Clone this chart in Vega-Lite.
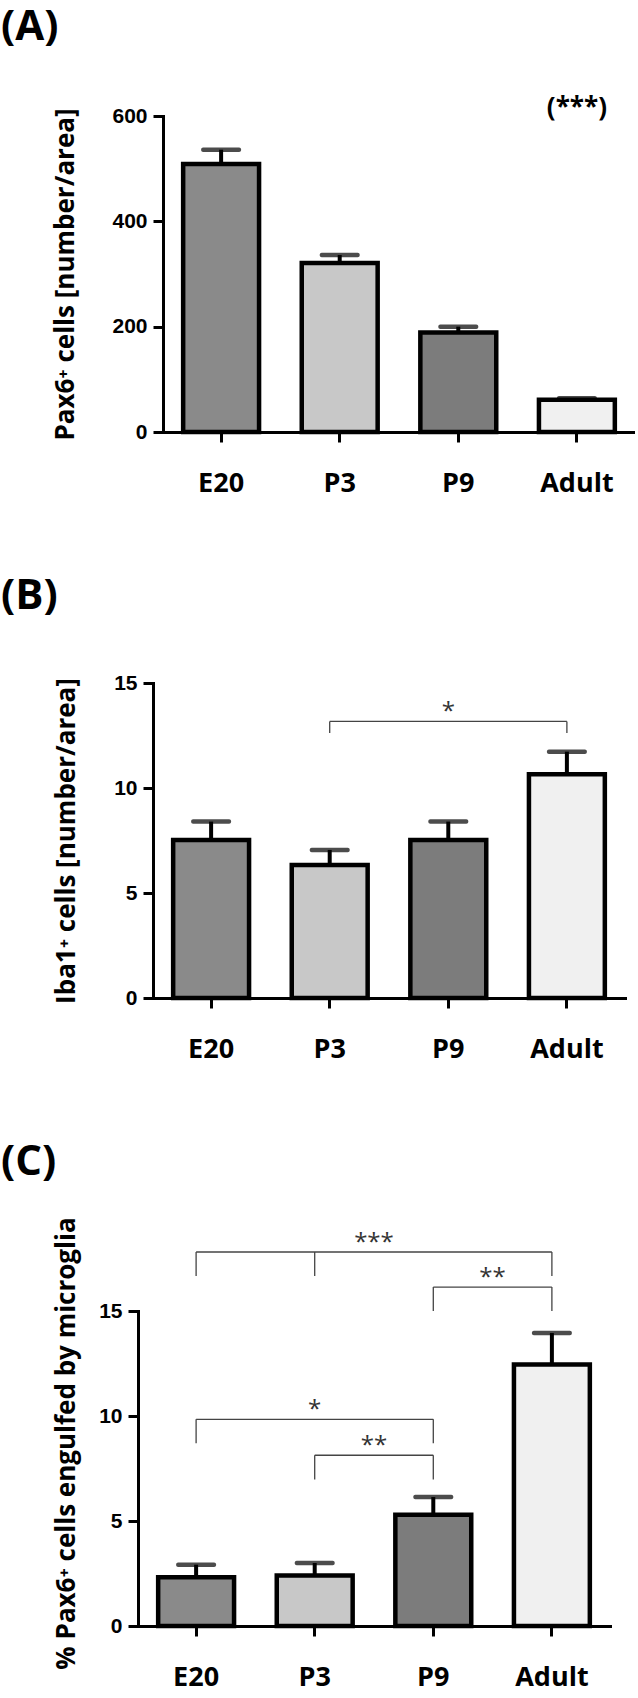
{
  "$schema": "https://vega.github.io/schema/vega-lite/v6.json",
  "padding": {"top": 6, "left": 0, "right": 0, "bottom": 0},
  "background": "white",
  "config": {
    "view": {"stroke": null},
    "axis": {"domainColor": "black", "domainWidth": 3, "tickColor": "black", "tickWidth": 3, "tickSize": 10, "grid": false, "labelColor": "black", "titleColor": "black", "domainCap": "square"},
    "axisY": {"labelFont": "Liberation Sans", "labelFontWeight": "bold", "labelFontSize": 21, "labelPadding": 6, "titleFont": "Open Sans", "titleFontWeight": "bold", "titleFontSize": 26},
    "axisX": {"labelFont": "Open Sans", "labelFontWeight": "bold", "labelFontSize": 27, "labelPadding": 28, "labelAngle": 0},
    "title": {"font": "Open Sans", "fontWeight": "bold", "fontSize": 42, "anchor": "start", "color": "black"}
  },
  "datasets": {
    "barsA": [
      {"g": "E20", "v": 509, "hi": 536},
      {"g": "P3", "v": 321, "hi": 336},
      {"g": "P9", "v": 189, "hi": 200},
      {"g": "Adult", "v": 61, "hi": 64}
    ],
    "noteA": [{"g": "Adult", "y": 615, "t": "(***)"}],
    "barsB": [
      {"g": "E20", "v": 7.52, "hi": 8.40},
      {"g": "P3", "v": 6.33, "hi": 7.05},
      {"g": "P9", "v": 7.52, "hi": 8.40},
      {"g": "Adult", "v": 10.65, "hi": 11.73}
    ],
    "hB": [{"a": "P3", "b": "Adult", "y": 13.17}],
    "lB": [
      {"g": "P3", "y": 13.17, "y2": 12.62},
      {"g": "Adult", "y": 13.17, "y2": 12.62}
    ],
    "sB": [{"g": "P9", "y": 13.17, "t": "*"}],
    "barsC": [
      {"g": "E20", "v": 2.32, "hi": 2.92},
      {"g": "P3", "v": 2.40, "hi": 3.00},
      {"g": "P9", "v": 5.30, "hi": 6.14},
      {"g": "Adult", "v": 12.45, "hi": 13.95}
    ],
    "hC": [
      {"a": "E20", "b": "Adult", "y": 17.81},
      {"a": "P9", "b": "Adult", "y": 16.14},
      {"a": "E20", "b": "P9", "y": 9.84},
      {"a": "P3", "b": "P9", "y": 8.13}
    ],
    "lC": [
      {"g": "E20", "y": 17.81, "y2": 16.67},
      {"g": "P3", "y": 17.81, "y2": 16.67},
      {"g": "Adult", "y": 17.81, "y2": 16.67},
      {"g": "P9", "y": 16.14, "y2": 15.0},
      {"g": "Adult", "y": 16.14, "y2": 15.0},
      {"g": "E20", "y": 9.84, "y2": 8.70},
      {"g": "P9", "y": 9.84, "y2": 8.70},
      {"g": "P3", "y": 8.13, "y2": 6.98},
      {"g": "P9", "y": 8.13, "y2": 6.98}
    ],
    "sCmid": [
      {"g": "P3", "y": 17.81, "t": "***"},
      {"g": "P9", "y": 16.14, "t": "**"},
      {"g": "P3", "y": 8.13, "t": "**"}
    ],
    "sCcen": [{"g": "P3", "y": 9.84, "t": "*"}]
  },
  "spacing": 78,
  "vconcat": [
    {
      "width": 497,
      "height": 316,
      "title": {"text": "(A)", "offset": 46, "dx": -52},
      "layer": [
        {
          "data": {"name": "barsA"},
          "mark": {"type": "bar", "stroke": "black", "strokeWidth": 4.5},
          "encoding": {
            "x": {"field": "g", "type": "nominal", "scale": {"domain": ["E20", "P3", "P9", "Adult"], "range": [25, 497], "paddingInner": 0.36, "paddingOuter": 0.17}, "axis": {"title": null}},
            "y": {"field": "v", "type": "quantitative", "scale": {"domain": [0, 600], "nice": false}, "axis": {"values": [0, 200, 400, 600], "title": "Pax6⁺ cells [number/area]", "titlePadding": 33, "offset": -25}},
            "fill": {"field": "g", "type": "nominal", "scale": {"domain": ["E20", "P3", "P9", "Adult"], "range": ["#8a8a8a", "#c8c8c8", "#7c7c7c", "#f0f0f0"]}, "legend": null}
          }
        },
        {
          "data": {"name": "barsA"},
          "mark": {"type": "rule", "strokeWidth": 4, "color": "black"},
          "encoding": {
            "x": {"field": "g", "type": "nominal"},
            "y": {"field": "v", "type": "quantitative"},
            "y2": {"field": "hi"}
          }
        },
        {
          "data": {"name": "barsA"},
          "mark": {"type": "tick", "thickness": 4.5, "size": 40, "color": "black", "cornerRadius": 2},
          "encoding": {
            "x": {"field": "g", "type": "nominal"},
            "y": {"field": "hi", "type": "quantitative"}
          }
        },
        {
          "data": {"name": "noteA"},
          "mark": {"type": "text", "font": "Open Sans", "fontWeight": "bold", "fontSize": 26, "baseline": "middle", "color": "black"},
          "encoding": {
            "x": {"field": "g", "type": "nominal"},
            "y": {"field": "y", "type": "quantitative"},
            "text": {"field": "t"}
          }
        }
      ]
    },
    {
      "width": 487,
      "height": 315,
      "title": {"text": "(B)", "offset": 54.5, "dx": -52},
      "layer": [
        {
          "data": {"name": "barsB"},
          "mark": {"type": "bar", "stroke": "black", "strokeWidth": 4.5},
          "encoding": {
            "x": {"field": "g", "type": "nominal", "scale": {"domain": ["E20", "P3", "P9", "Adult"], "range": [15, 487], "paddingInner": 0.36, "paddingOuter": 0.17}, "axis": {"title": null}},
            "y": {"field": "v", "type": "quantitative", "scale": {"domain": [0, 15], "nice": false}, "axis": {"values": [0, 5, 10, 15], "title": "Iba1⁺ cells [number/area]", "titlePadding": 34.6, "offset": -15}},
            "fill": {"field": "g", "type": "nominal", "scale": {"domain": ["E20", "P3", "P9", "Adult"], "range": ["#8a8a8a", "#c8c8c8", "#7c7c7c", "#f0f0f0"]}, "legend": null}
          }
        },
        {
          "data": {"name": "barsB"},
          "mark": {"type": "rule", "strokeWidth": 4, "color": "black"},
          "encoding": {
            "x": {"field": "g", "type": "nominal"},
            "y": {"field": "v", "type": "quantitative"},
            "y2": {"field": "hi"}
          }
        },
        {
          "data": {"name": "barsB"},
          "mark": {"type": "tick", "thickness": 4.5, "size": 40, "color": "black", "cornerRadius": 2},
          "encoding": {
            "x": {"field": "g", "type": "nominal"},
            "y": {"field": "hi", "type": "quantitative"}
          }
        },
        {
          "data": {"name": "hB"},
          "mark": {"type": "rule", "color": "#444444", "strokeWidth": 1.3},
          "encoding": {
            "x": {"field": "a", "type": "nominal"},
            "x2": {"field": "b"},
            "y": {"field": "y", "type": "quantitative"}
          }
        },
        {
          "data": {"name": "lB"},
          "mark": {"type": "rule", "color": "#444444", "strokeWidth": 1.3},
          "encoding": {
            "x": {"field": "g", "type": "nominal"},
            "y": {"field": "y", "type": "quantitative"},
            "y2": {"field": "y2"}
          }
        },
        {
          "data": {"name": "sB"},
          "mark": {"type": "text", "font": "Open Sans", "fontSize": 24, "baseline": "alphabetic", "dy": -2, "color": "#333333"},
          "encoding": {
            "x": {"field": "g", "type": "nominal"},
            "y": {"field": "y", "type": "quantitative"},
            "text": {"field": "t"}
          }
        }
      ]
    },
    {
      "width": 472,
      "height": 315,
      "title": {"text": "(C)", "offset": 33, "dx": -52},
      "layer": [
        {
          "data": {"name": "barsC"},
          "mark": {"type": "bar", "stroke": "black", "strokeWidth": 4.5},
          "encoding": {
            "x": {"field": "g", "type": "nominal", "scale": {"domain": ["E20", "P3", "P9", "Adult"], "paddingInner": 0.36, "paddingOuter": 0.17}, "axis": {"title": null}},
            "y": {"field": "v", "type": "quantitative", "scale": {"domain": [0, 15], "nice": false}, "axis": {"values": [0, 5, 10, 15], "title": "% Pax6⁺ cells engulfed by microglia", "titlePadding": 19.6, "titleY": 132}},
            "fill": {"field": "g", "type": "nominal", "scale": {"domain": ["E20", "P3", "P9", "Adult"], "range": ["#8a8a8a", "#c8c8c8", "#7c7c7c", "#f0f0f0"]}, "legend": null}
          }
        },
        {
          "data": {"name": "barsC"},
          "mark": {"type": "rule", "strokeWidth": 4, "color": "black"},
          "encoding": {
            "x": {"field": "g", "type": "nominal"},
            "y": {"field": "v", "type": "quantitative"},
            "y2": {"field": "hi"}
          }
        },
        {
          "data": {"name": "barsC"},
          "mark": {"type": "tick", "thickness": 4.5, "size": 40, "color": "black", "cornerRadius": 2},
          "encoding": {
            "x": {"field": "g", "type": "nominal"},
            "y": {"field": "hi", "type": "quantitative"}
          }
        },
        {
          "data": {"name": "hC"},
          "mark": {"type": "rule", "color": "#444444", "strokeWidth": 1.3},
          "encoding": {
            "x": {"field": "a", "type": "nominal"},
            "x2": {"field": "b"},
            "y": {"field": "y", "type": "quantitative"}
          }
        },
        {
          "data": {"name": "lC"},
          "mark": {"type": "rule", "color": "#444444", "strokeWidth": 1.3},
          "encoding": {
            "x": {"field": "g", "type": "nominal"},
            "y": {"field": "y", "type": "quantitative"},
            "y2": {"field": "y2"}
          }
        },
        {
          "data": {"name": "sCmid"},
          "mark": {"type": "text", "font": "Open Sans", "fontSize": 24, "baseline": "alphabetic", "dy": -2, "color": "#333333"},
          "encoding": {
            "x": {"field": "g", "type": "nominal", "bandPosition": 1.281},
            "y": {"field": "y", "type": "quantitative"},
            "text": {"field": "t"}
          }
        },
        {
          "data": {"name": "sCcen"},
          "mark": {"type": "text", "font": "Open Sans", "fontSize": 24, "baseline": "alphabetic", "dy": -2, "color": "#333333"},
          "encoding": {
            "x": {"field": "g", "type": "nominal"},
            "y": {"field": "y", "type": "quantitative"},
            "text": {"field": "t"}
          }
        }
      ]
    }
  ]
}
